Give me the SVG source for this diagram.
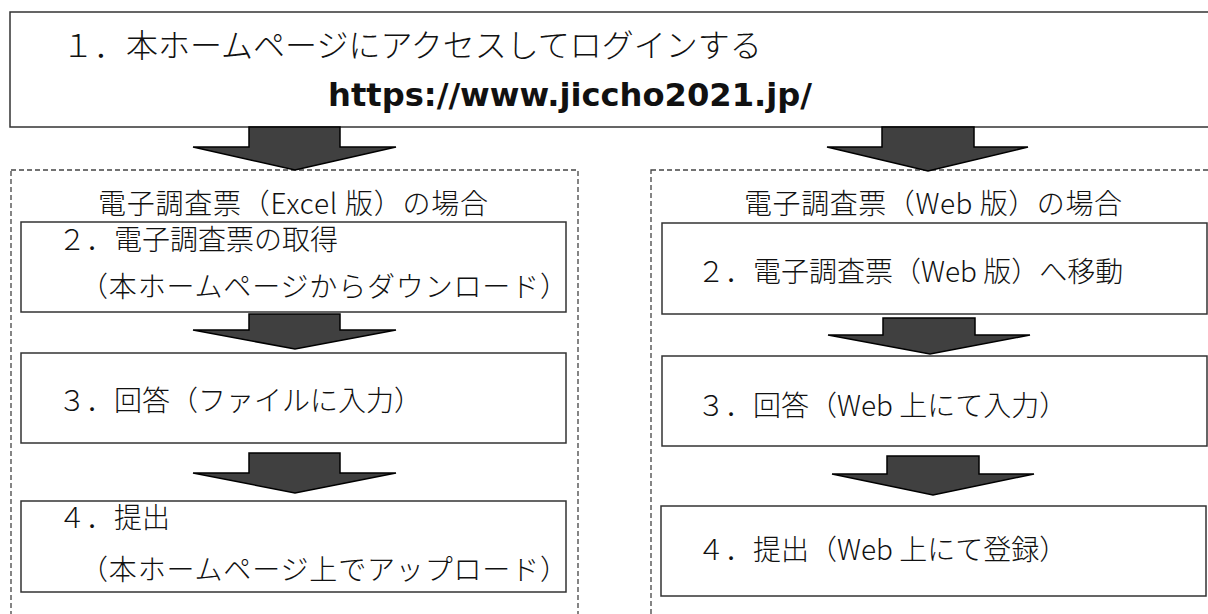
<svg xmlns="http://www.w3.org/2000/svg" width="1208" height="614" viewBox="0 0 1208 614">
<style>
.box{fill:#fff;stroke:#333;stroke-width:1.5}
.dash{fill:none;stroke:#444;stroke-width:1.3;stroke-dasharray:5 3}
.arr{fill:#404040;stroke:#000;stroke-width:1.5;stroke-linejoin:miter}
.jp{font-family:"Noto Sans CJK JP","Noto Sans",sans-serif;font-weight:300;fill:#111}
.t32{font-size:32px}
.t28{font-size:28px}
.url{font-family:"DejaVu Sans",Verdana,sans-serif;font-weight:bold;font-size:32px;fill:#111}
</style>
<rect width="1208" height="614" fill="#fff"/>
<g id="frames">
<rect class="dash" x="11" y="170" width="567" height="460"/>
<rect class="dash" x="651" y="170" width="570" height="460"/>
</g>
<g id="n1">
<rect class="box" x="10" y="12" width="1210" height="115"/>
<text class="jp t32" x="62" y="57">１．本ホームページにアクセスしてログインする</text>
<text class="url" x="328" y="106" textLength="484" lengthAdjust="spacingAndGlyphs">https://www.jiccho2021.jp/</text>
</g>
<g id="h-excel"><text class="jp t28" x="293" y="214" text-anchor="middle" textLength="390">電子調査票（Excel 版）の場合</text></g>
<g id="h-web"><text class="jp t28" x="933" y="214" text-anchor="middle" textLength="378">電子調査票（Web 版）の場合</text></g>
<g id="e2">
<rect class="box" x="21" y="222" width="545" height="90"/>
<text class="jp t28" x="58" y="250">２．電子調査票の取得</text>
<text class="jp t28" x="80" y="297" textLength="488">（本ホームページからダウンロード）</text>
</g>
<g id="e3">
<rect class="box" x="21" y="353" width="545" height="90"/>
<text class="jp t28" x="58" y="411">３．回答（ファイルに入力）</text>
</g>
<g id="e4">
<rect class="box" x="21" y="501" width="545" height="91"/>
<text class="jp t28" x="58" y="528">４．提出</text>
<text class="jp t28" x="80" y="580" textLength="488">（本ホームページ上でアップロード）</text>
</g>
<g id="w2">
<rect class="box" x="662" y="223" width="545" height="91"/>
<text class="jp t28" x="697" y="282">２．電子調査票（Web 版）へ移動</text>
</g>
<g id="w3">
<rect class="box" x="662" y="356" width="545" height="90"/>
<text class="jp t28" x="697" y="416">３．回答（Web 上にて入力）</text>
</g>
<g id="w4">
<rect class="box" x="661" y="506" width="545" height="90"/>
<text class="jp t28" x="697" y="560">４．提出（Web 上にて登録）</text>
</g>
<g id="connectors">
<polygon class="arr" points="249,127 340,127 340,147 396,147 295,170 193,147 249,147"/>
<polygon class="arr" points="882,127 974,127 974,147 1028,147 928,171 827,147 882,147"/>
<polygon class="arr" points="249,314 340,314 340,330 396,330 295,349 193,330 249,330"/>
<polygon class="arr" points="249,453 340,453 340,473 396,473 295,493 193,473 249,473"/>
<polygon class="arr" points="883,318 975,318 975,335 1030,335 930,354 828,335 883,335"/>
<polygon class="arr" points="887,456 979,456 979,474 1034,474 933,495 832,474 887,474"/>
</g>
</svg>
